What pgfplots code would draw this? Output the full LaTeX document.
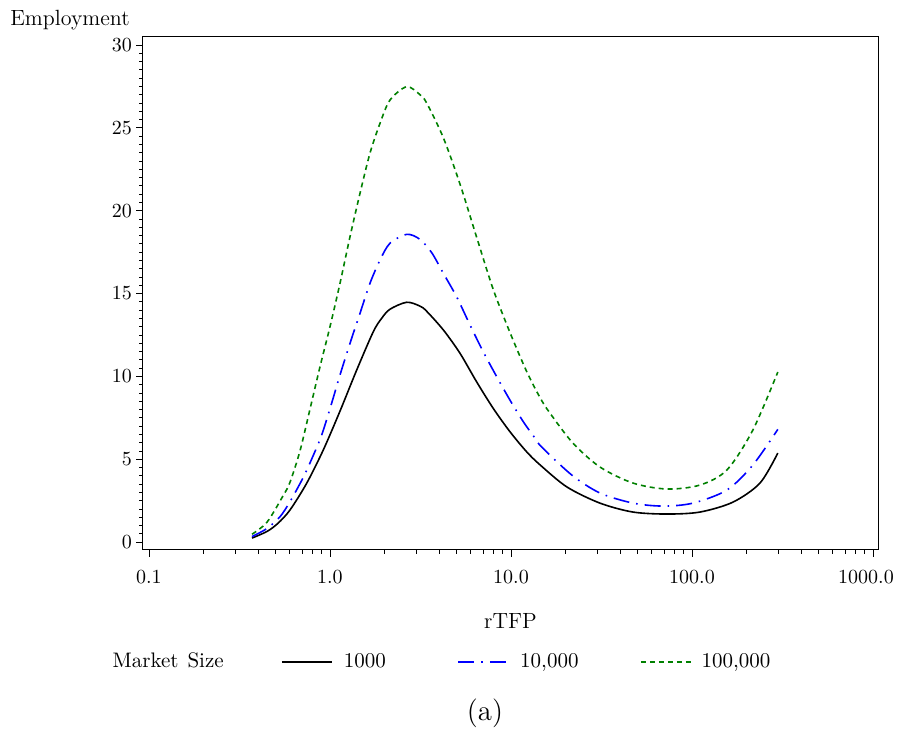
\documentclass[border=0pt]{standalone}
\usepackage{pgfplots}
\pgfplotsset{compat=1.18}
\usetikzlibrary{calc}
\definecolor{dgreen}{RGB}{0,128,0}
\pgfplotstableread{
x y
0.371 0.24
0.449 0.64
0.516 1.13
0.601 1.93
0.743 3.54
0.918 5.55
1.136 7.90
1.405 10.38
1.735 12.69
1.93 13.50
2.145 14.05
2.653 14.47
3.14 14.24
3.42 13.93
4.23 12.80
5.23 11.39
6.46 9.67
7.98 8.07
9.87 6.66
12.2 5.45
14.5 4.65
20.4 3.32
31.0 2.35
47.2 1.81
72.8 1.69
110.7 1.81
168.5 2.41
237.6 3.56
298 5.37
}\blacktab
\pgfplotstableread{
x y
0.371 0.33
0.449 0.82
0.529 1.52
0.601 2.43
0.712 3.90
0.792 5.00
0.900 6.46
1.021 8.37
1.136 10.08
1.29 11.99
1.465 13.80
1.663 15.61
1.89 17.02
2.145 18.03
2.653 18.57
3.14 18.27
3.65 17.46
4.23 16.22
5.01 14.80
5.94 13.10
7.03 11.48
8.34 9.98
9.87 8.57
11.7 7.26
13.6 6.26
14.8 5.73
21.7 4.04
31.0 2.96
47.2 2.35
69.2 2.17
101.3 2.35
156 3.14
217 4.65
298 6.80
}\bluetab
\pgfplotstableread{
x y
0.371 0.47
0.449 1.20
0.550 2.78
0.601 3.60
0.683 5.50
0.775 8.00
0.881 10.58
1.0 12.99
1.136 15.61
1.29 18.42
1.465 21.04
1.663 23.46
1.89 25.27
2.145 26.67
2.653 27.48
3.14 27.00
3.42 26.50
4.23 24.40
5.23 21.60
6.46 18.40
7.98 15.25
9.87 12.65
12.2 10.30
14.5 8.70
16.4 7.79
22.0 5.97
31.0 4.53
47.2 3.56
72.8 3.20
110.7 3.44
156 4.35
217 6.76
298 10.26
}\greentab
\begin{document}
\begin{tikzpicture}
\begin{axis}[name=ax, scale only axis, width=367.5pt, height=256.5pt,
 xmode=log, xmin=0.0927, xmax=1066, ymin=-0.48, ymax=30.48,
 xtick={0.1,1,10,100,1000},
 xticklabels={0.1,1.0,10.0,100.0,\makebox[0pt]{\hspace*{-7pt}1000.0}},
 ytick={0,5,...,30}, minor y tick num=9,
 tick align=outside, xtick pos=bottom, ytick pos=left,
 major tick length=3.5pt, minor tick length=2pt,
 axis line style={line width=0.5pt},
 every tick/.style={black, line width=0.4pt},
 xticklabel style={yshift=-3pt},
 yticklabel style={xshift=1.5pt},
 xlabel={rTFP}, ylabel={Employment},
 every axis x label/.style={at={(rel axis cs:0.5,0)}, anchor=base, yshift=-39.5pt, font=\fontsize{11}{13}\selectfont},
 every axis y label/.style={at={(rel axis cs:0,1)}, anchor=base, xshift=-36.5pt, yshift=5.5pt, font=\fontsize{11}{13}\selectfont},
 legend columns=4,
 legend style={at={(rel axis cs:0,0)}, anchor=west, xshift=-17.2pt, yshift=-56pt, draw=none, fill=none, inner sep=0pt, outer sep=0pt, font=\fontsize{10.5}{12}\selectfont},
 legend image code/.code={\draw[#1] (0pt,0pt) -- (25pt,0pt);},
]
\addlegendimage{empty legend}
\addlegendentry{\makebox[82.3pt][l]{Market\hspace{4.5pt}Size}}
\addplot[black, line width=0.8pt, smooth] table {\blacktab};
\addlegendentry{\makebox[58.4pt][l]{\hspace{3.5pt}1000}}
\addplot[blue, line width=0.8pt, smooth, dash pattern=on 8pt off 3.5pt on 0.8pt off 3.5pt] table {\bluetab};
\addlegendentry{\makebox[61.4pt][l]{\hspace{3.5pt}10,000}}
\addplot[dgreen, line width=0.8pt, smooth, dash pattern=on 2.5pt off 2pt] table {\greentab};
\addlegendentry{\hspace{3pt}100,000}
\end{axis}
\node[font=\Large] at ($(ax.south)+(-12.75pt,-81.5pt)$) {(a)};
\pgfresetboundingbox
\path ($(ax.south west)+(-71.5pt,-93.5pt)$) rectangle ($(ax.north east)+(10.5pt,18.5pt)$);
\end{tikzpicture}
\end{document}
